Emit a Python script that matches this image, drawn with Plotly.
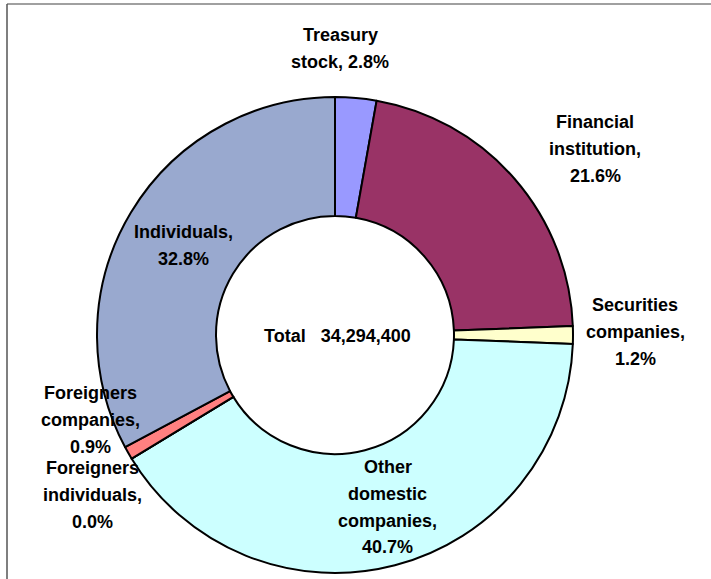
import plotly.graph_objects as go

# ---- data ----
categories = ["Treasury stock", "Financial institution", "Securities companies",
              "Other domestic companies", "Foreigners individuals",
              "Foreigners companies", "Individuals"]
shares = [2.8, 21.6, 1.2, 40.7, 0.0, 0.9, 32.8]
label_names = [["Treasury", "stock,"], ["Financial", "institution,"],
               ["Securities", "companies,"], ["Other", "domestic", "companies,"],
               ["Foreigners", "individuals,"], ["Foreigners", "companies,"],
               ["Individuals,"]]
total_shares = "34,294,400"

# ---- styles / positions ----
colors = ["#9999FF", "#993366", "#FFFFCC", "#CCFFFF", "#FFFFFF", "#FF8080", "#99A9CF"]
W, H = 711, 579
# label anchor (x centre, y of first line) in pixels; line step
label_pos = [(340, 35), (595, 122), (635, 305), (388, 467),
             (92, 468), (90, 393), (183, 232)]
line_step = 26.8
font = dict(family="Liberation Sans, Arial, sans-serif", size=18, color="#000000")

cx, cy, R = 335, 335, 238

fig = go.Figure(go.Pie(
    labels=categories, values=shares, sort=False, direction="clockwise", rotation=0,
    hole=0.5, textinfo="none", hoverinfo="label+percent",
    marker=dict(colors=colors, line=dict(color="#000000", width=2)),
    domain=dict(x=[(cx - R) / W, (cx + R) / W], y=[1 - (cy + R) / H, 1 - (cy - R) / H]),
    showlegend=False,
))

annotations = []
for names, val, (px, py) in zip(label_names, shares, label_pos):
    lines = list(names)
    if names[0] == "Treasury":
        lines[-1] = lines[-1] + " " + f"{val:.1f}%"
    else:
        lines.append(f"{val:.1f}%")
    for i, t in enumerate(lines):
        annotations.append(dict(
            x=px / W, y=1 - (py + i * line_step) / H, xref="paper", yref="paper",
            text=f"<b>{t}</b>", showarrow=False, font=font,
            xanchor="center", yanchor="middle"))
annotations.append(dict(x=337 / W, y=1 - 336 / H, xref="paper", yref="paper",
                        text="<b>Total\u00a0\u00a0\u00a0" + total_shares + "</b>",
                        showarrow=False, font=font,
                        xanchor="center", yanchor="middle"))

shapes = [
    dict(type="line", xref="paper", yref="paper", x0=7 / W, x1=1.01, y0=1 - 4 / H, y1=1 - 4 / H,
         line=dict(color="#808080", width=1.5)),
    dict(type="line", xref="paper", yref="paper", x0=7 / W, x1=7 / W, y0=1 - 4 / H, y1=-0.01,
         line=dict(color="#555555", width=1.5)),
]

fig.update_layout(
    width=W, height=H, margin=dict(l=0, r=0, t=0, b=0),
    paper_bgcolor="#FFFFFF", plot_bgcolor="#FFFFFF",
    annotations=annotations, shapes=shapes,
)

fig.write_html("out.html", config={"displayModeBar": False},
               post_script="document.body.style.margin='0';document.body.style.overflow='hidden';")
